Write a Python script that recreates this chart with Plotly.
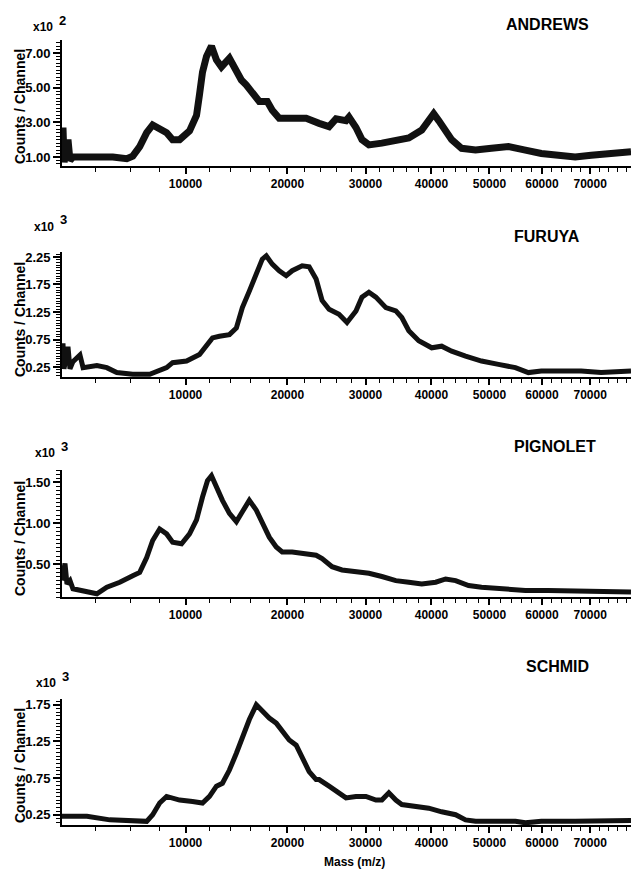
import math
import plotly.graph_objects as go

# ---- spectra: mass (m/z) vs counts/channel (scaled units shown on each axis) ----
andrews_mass = [2474, 2514, 2560, 2638, 2722, 2807, 2937, 3253, 3585, 4243, 4957, 5789, 6165,
                6618, 7088, 7504, 8003, 8519, 8974, 9520, 10327, 10912, 11167, 11426,
                11775, 12219, 12671, 13131, 13886, 14367, 15055, 15557, 16169, 16900,
                17753, 18297, 19072, 20556, 22216, 23814, 25081, 25988, 27311, 27715,
                28667, 29498, 30479, 32347, 34421, 36405, 38443, 39888, 40374, 41193, 42353,
                43360, 45064, 47506, 50374, 53514, 56750, 59883, 63303, 66817, 70214, 73913,
                76806, 79068]
andrews_counts = [1.2, 2.7, 0.7, 1.5, 2.0, 0.8, 1.0, 1.0, 1.0, 1.06, 1.0, 0.9, 1.05,
                  1.6, 2.4, 2.85, 2.65, 2.4, 2.0, 2.0, 2.5, 3.4, 4.6, 5.9,
                  6.8, 7.4, 6.6, 6.2, 6.7, 6.2, 5.44, 5.15, 4.77, 4.2,
                  4.2, 3.7, 3.23, 3.23, 3.23, 2.94, 2.75, 3.2, 3.1, 3.3,
                  2.7, 2.0, 1.7, 1.8, 2.0, 2.1, 2.55, 3.4, 3.5, 3.1, 2.55,
                  2.0, 1.5, 1.4, 1.5, 1.6, 1.4, 1.2, 1.1, 1.0, 1.1, 1.2,
                  1.3, 1.3]

furuya_mass = [2474, 2514, 2555, 2638, 2722, 2807, 2937, 3253, 3400, 4086, 4621, 5188, 6165,
               7295, 8003, 8519, 8974, 10082, 11167, 11775, 12308, 12946, 13886, 14562,
               15155, 15861, 16584, 17216, 17645, 18297, 19072, 19864, 20556, 21735, 22579,
               23440, 24190, 25081, 26381, 27446, 28667, 29498, 30479, 31478, 32935, 34421,
               35329, 36405, 37967, 40048, 41689, 43360, 45755, 48572, 51656, 54836, 57332,
               59883, 63918, 68081, 72377, 79068]
furuya_counts = [0.3, 0.68, 0.22, 0.45, 0.62, 0.22, 0.35, 0.47, 0.24, 0.28, 0.24, 0.15, 0.12,
                 0.12, 0.18, 0.24, 0.33, 0.36, 0.48, 0.66, 0.78, 0.81, 0.84, 0.96,
                 1.33, 1.63, 1.94, 2.21, 2.27, 2.12, 2.00, 1.91, 2.00, 2.09, 2.07,
                 1.85, 1.46, 1.30, 1.21, 1.06, 1.27, 1.52, 1.61, 1.52, 1.33, 1.27,
                 1.15, 0.91, 0.73, 0.60, 0.63, 0.54, 0.45, 0.36, 0.30, 0.24, 0.15,
                 0.18, 0.18, 0.18, 0.15, 0.18]

pignolet_mass = [2474, 2596, 2680, 2807, 2937, 3585, 4086, 4621, 5365, 6165, 6618, 7088, 7504,
                 8003, 8519, 8974, 9678, 10327, 10912, 11426, 11863, 12219, 12671, 13225,
                 13886, 14562, 15155, 15861, 16584, 17216, 17969, 18738, 19410, 20556, 21735,
                 23440, 24190, 25468, 26778, 28667, 30479, 32347, 34421, 36405, 38443, 40699,
                 42353, 44037, 46277, 48572, 52212, 56750, 61281, 66817, 72377, 79068]
pignolet_counts = [0.3, 0.51, 0.26, 0.3, 0.20, 0.16, 0.14, 0.22, 0.28, 0.36, 0.40, 0.58, 0.79,
                   0.93, 0.87, 0.77, 0.75, 0.87, 1.04, 1.32, 1.52, 1.58, 1.44, 1.28,
                   1.12, 1.02, 1.14, 1.28, 1.16, 1.00, 0.83, 0.71, 0.65, 0.65, 0.63,
                   0.61, 0.57, 0.47, 0.43, 0.41, 0.39, 0.35, 0.30, 0.28, 0.26, 0.28,
                   0.32, 0.30, 0.24, 0.22, 0.20, 0.18, 0.18, 0.17, 0.17, 0.16]

schmid_mass = [2474, 3585, 4788, 6165, 7088, 7504, 8003, 8519, 9520, 10575, 11426, 12041, 12671,
               13225, 13886, 14562, 15155, 15861, 16584, 17216, 17969, 18738, 19410, 20208,
               21024, 21735, 22579, 23440, 23814, 25081, 26381, 27311, 28667, 30057, 31478,
               32347, 33376, 34421, 35329, 37496, 39565, 41689, 44037, 45755, 47506, 50374,
               54836, 56750, 59883, 66817, 73913, 79068]
schmid_counts = [0.23, 0.23, 0.18, 0.16, 0.16, 0.25, 0.41, 0.50, 0.45, 0.43, 0.41, 0.50, 0.64,
                 0.68, 0.86, 1.09, 1.32, 1.55, 1.75, 1.66, 1.57, 1.50, 1.38, 1.27,
                 1.20, 1.04, 0.84, 0.73, 0.73, 0.64, 0.55, 0.48, 0.50, 0.50, 0.45,
                 0.45, 0.55, 0.45, 0.39, 0.36, 0.34, 0.29, 0.25, 0.18, 0.16, 0.16,
                 0.16, 0.14, 0.16, 0.16, 0.16, 0.17]

# ---- axis ticks ----
mass_ticks = [10000, 20000, 30000, 40000, 50000, 60000, 70000]
mass_minor = list(range(4000, 80000, 2000))
mass_range = (2474, 79068)

panels = [
    dict(name="ANDREWS", mass=andrews_mass, counts=andrews_counts, exp="2",
         yrange=(0.48, 7.75), ytick0=1.0, ydtick=2.0, yminor=0.2, width=7),
    dict(name="FURUYA", mass=furuya_mass, counts=furuya_counts, exp="3",
         yrange=(0.07, 2.34), ytick0=0.25, ydtick=0.5, yminor=0.05, width=5),
    dict(name="PIGNOLET", mass=pignolet_mass, counts=pignolet_counts, exp="3",
         yrange=(0.10, 1.65), ytick0=0.5, ydtick=0.5, yminor=0.05, width=5),
    dict(name="SCHMID", mass=schmid_mass, counts=schmid_counts, exp="3",
         yrange=(0.11, 1.83), ytick0=0.25, ydtick=0.5, yminor=0.05, width=5),
]

W, H = 633, 869
ML, MR, MT, MB = 20, 2, 20, 20          # page margins in pixels
# pixel frames of each panel: (bottom, top)
frames = [(166, 40), (377, 252), (597, 470), (825, 699)]
x_left, x_right = 62, 633
title_pos = [(547, 25), (547, 236), (555, 446), (557, 666)]
x10_pos = [(43, 27), (44, 227), (45, 453), (46, 683)]
ylab_pos = [107, 320, 539, 766]

NARROW = "Liberation Sans Narrow, Arial Narrow, sans-serif"
BOLD = "Liberation Sans, Arial, sans-serif"


def px(x):
    return (x - ML) / (W - ML - MR)


def py(y):
    return 1 - (y - MT) / (H - MT - MB)


def sq(v):
    # flight-time style axis: position goes with the square root of mass
    return [math.sqrt(m) for m in v]


fig = go.Figure()
annotations = []
axes = {}

for i, p in enumerate(panels):
    k = "" if i == 0 else str(i + 1)
    fig.add_trace(go.Scatter(
        x=sq(p["mass"]), y=p["counts"], mode="lines",
        line=dict(color="#111111", width=p["width"]),
        xaxis="x" + k, yaxis="y" + k, showlegend=False, hoverinfo="skip"))

    bottom, top = frames[i]
    axes["xaxis" + k] = dict(
        domain=[px(x_left), min(1.0, px(x_right))], anchor="y" + k,
        range=sq(mass_range), tickmode="array",
        tickvals=sq(mass_ticks), ticktext=[str(t) for t in mass_ticks],
        tickangle=0, ticks="outside", ticklen=6, tickwidth=1.5, tickcolor="black",
        minor=dict(tickmode="array", tickvals=sq(mass_minor), ticks="outside",
                   ticklen=4, tickwidth=1.3, tickcolor="black"),
        showline=True, linecolor="black", linewidth=1.6,
        showgrid=False, zeroline=False,
        tickfont=dict(family=NARROW, size=12, color="black", weight="bold"))
    axes["yaxis" + k] = dict(
        domain=[py(bottom), py(top)], anchor="x" + k,
        range=list(p["yrange"]), tickmode="linear",
        tick0=p["ytick0"], dtick=p["ydtick"], tickformat=".2f",
        ticks="outside", ticklen=7, tickwidth=1.5, tickcolor="black",
        minor=dict(dtick=p["yminor"], tick0=0, ticks="outside",
                   ticklen=4, tickwidth=1.2, tickcolor="black"),
        showline=True, linecolor="black", linewidth=1.6,
        showgrid=False, zeroline=False,
        tickfont=dict(family=NARROW, size=13, color="black", weight="bold"))

    tx, ty = title_pos[i]
    annotations.append(dict(text=p["name"], x=px(tx), y=py(ty), xref="paper", yref="paper",
                            showarrow=False, xanchor="center", yanchor="middle",
                            font=dict(family=BOLD, size=16, color="black", weight="bold")))
    ex, ey = x10_pos[i]
    annotations.append(dict(text="x10", x=px(ex), y=py(ey), xref="paper", yref="paper",
                            showarrow=False, xanchor="center", yanchor="middle",
                            font=dict(family=NARROW, size=12, color="black", weight="bold")))
    annotations.append(dict(text=p["exp"], x=px(ex + 19), y=py(ey - 7), xref="paper",
                            yref="paper", showarrow=False, xanchor="center", yanchor="middle",
                            font=dict(family=NARROW, size=13, color="black", weight="bold")))
    annotations.append(dict(text="Counts / Channel", x=px(20), y=py(ylab_pos[i]),
                            xref="paper", yref="paper", showarrow=False, textangle=-90,
                            xanchor="center", yanchor="middle",
                            font=dict(family=NARROW, size=14, color="black", weight="bold")))

annotations.append(dict(text="Mass (m/z)", x=px(354), y=py(862), xref="paper", yref="paper",
                        showarrow=False, xanchor="center", yanchor="middle",
                        font=dict(family=NARROW, size=12, color="black", weight="bold")))

fig.update_layout(width=W, height=H, margin=dict(l=ML, r=MR, t=MT, b=MB),
                  template="simple_white", annotations=annotations, **axes)

fig.write_html("out.html")
